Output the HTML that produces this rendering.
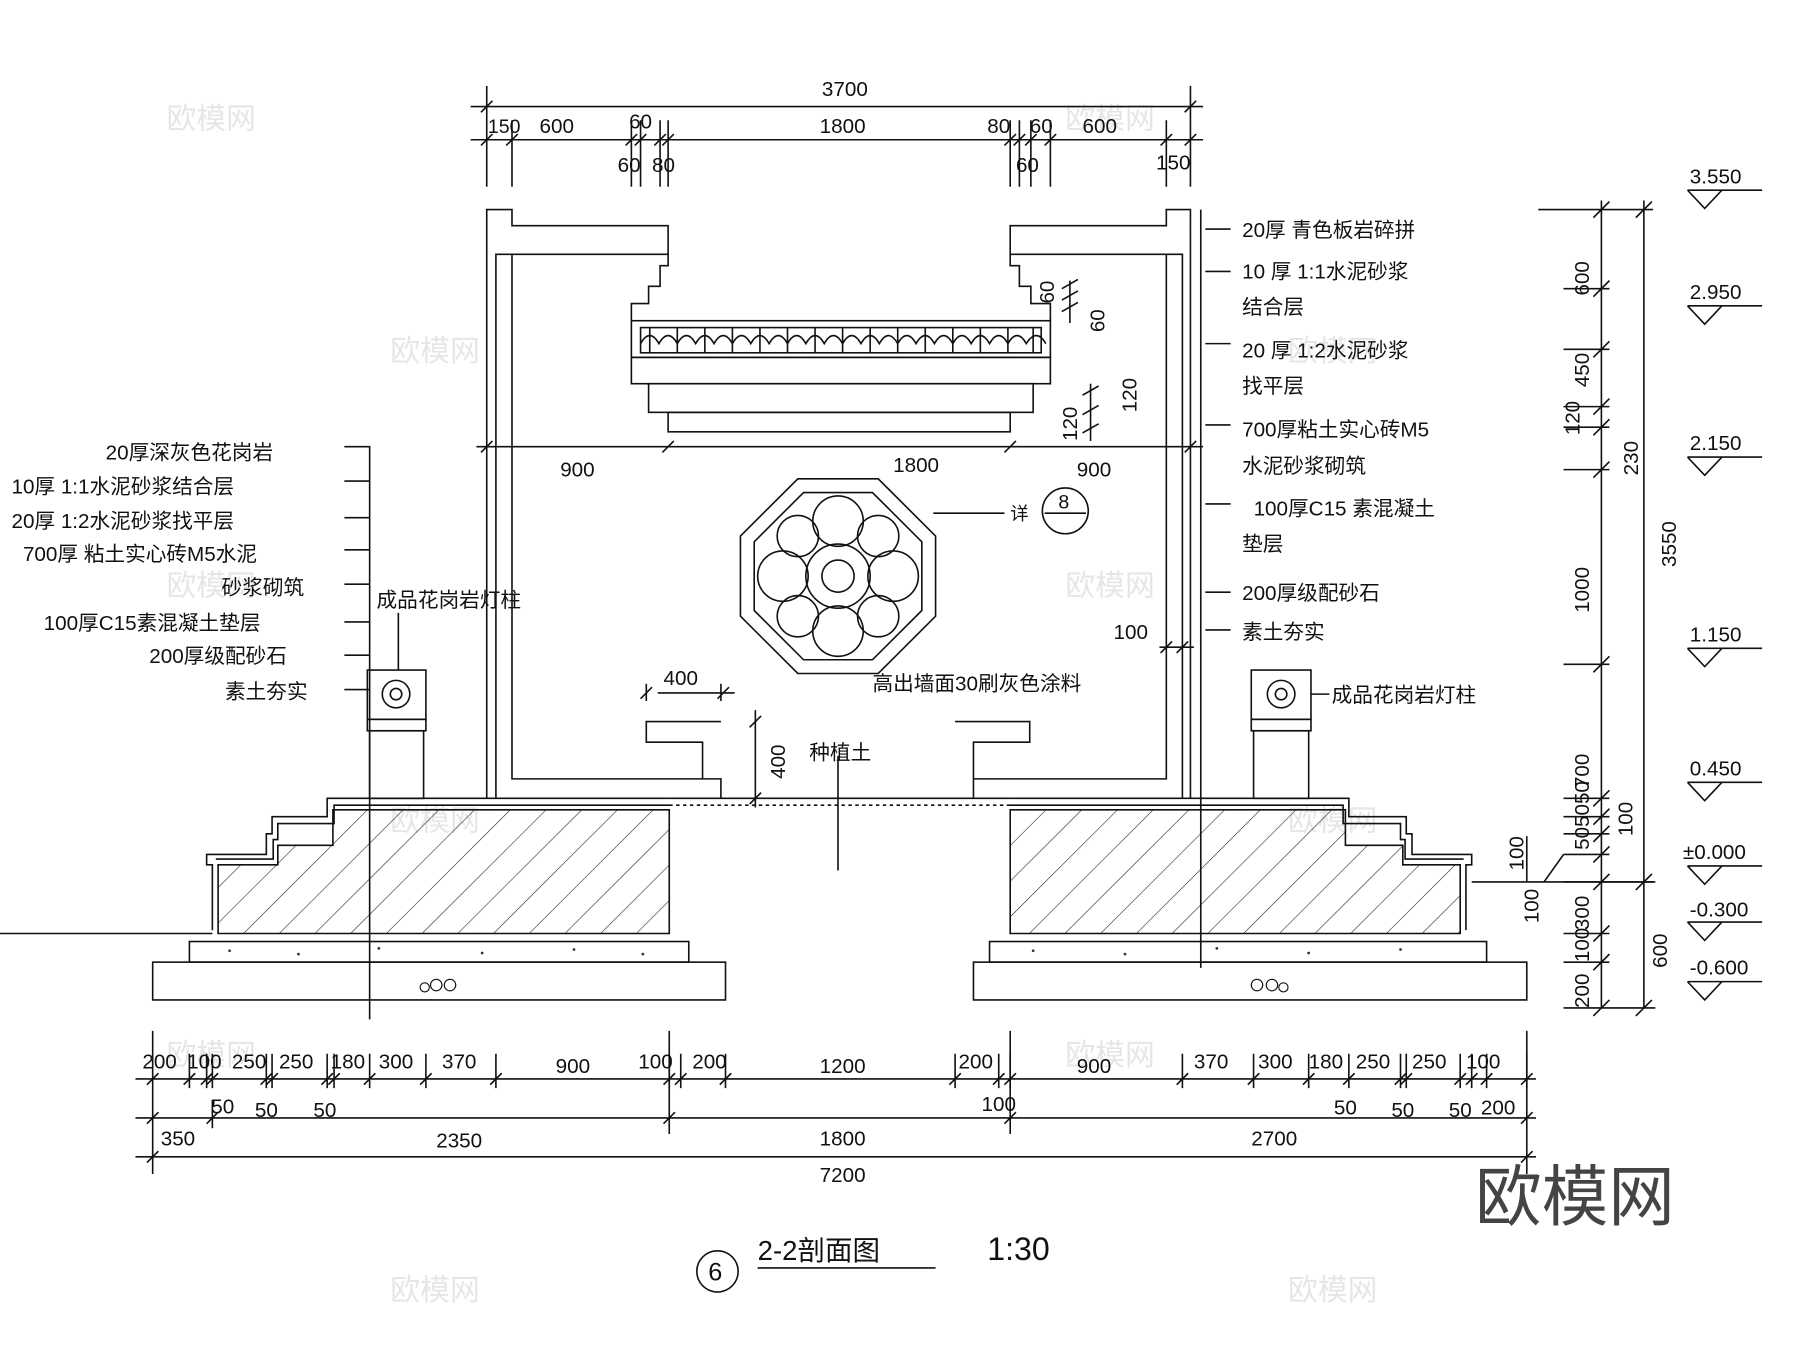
<!DOCTYPE html>
<html><head><meta charset="utf-8"><style>
html,body{margin:0;padding:0;background:#fff;}
svg{display:block}
text{font-family:"Liberation Sans","Noto Sans CJK SC",sans-serif;fill:#111}
</style></head><body>
<svg width="1800" height="1347" viewBox="0 0 1568 1176" preserveAspectRatio="none" xmlns="http://www.w3.org/2000/svg">
<defs>
<pattern id="h" width="22" height="22" patternUnits="userSpaceOnUse" patternTransform="rotate(45)">
<line x1="0" y1="0" x2="0" y2="22" stroke="#222" stroke-width="1"/></pattern>
</defs>
<rect width="1568" height="1176" fill="#fff"/>
<g font-size="26" opacity="1">
<g style="fill:#e6e6e6">
<text x="145" y="112" style="fill:#e6e6e6">欧模网</text><text x="340" y="315" style="fill:#e6e6e6">欧模网</text><text x="928" y="112" style="fill:#e6e6e6">欧模网</text>
<text x="1122" y="315" style="fill:#e6e6e6">欧模网</text><text x="145" y="520" style="fill:#e6e6e6">欧模网</text><text x="928" y="520" style="fill:#e6e6e6">欧模网</text>
<text x="340" y="725" style="fill:#e6e6e6">欧模网</text><text x="1122" y="725" style="fill:#e6e6e6">欧模网</text><text x="145" y="930" style="fill:#e6e6e6">欧模网</text>
<text x="928" y="930" style="fill:#e6e6e6">欧模网</text><text x="340" y="1135" style="fill:#e6e6e6">欧模网</text><text x="1122" y="1135" style="fill:#e6e6e6">欧模网</text>
</g></g>
<g stroke="#111" fill="none" stroke-width="1.4">
<polyline points="424,697 424,183 446,183 446,197 582,197 582,232 575,232 575,250 565,250 565,265 550,265 550,280"/>
<polyline points="1037,697 1037,183 1016,183 1016,197 880,197 880,232 888,232 888,250 898,250 898,265 915,265 915,280"/>
<polyline points="432,697 432,222 446,222"/>
<polyline points="628,697 628,680 446,680 446,222 582,222"/>
<polyline points="1030,697 1030,222 1016,222"/>
<polyline points="848,697 848,680 1016,680 1016,222 880,222"/>
<rect x="550" y="280" width="365" height="32"/>
<rect x="558" y="286" width="349" height="22"/>
<rect x="550" y="312" width="365" height="23"/>
<rect x="565" y="335" width="335" height="25"/>
<rect x="582" y="360" width="298" height="17"/>
<path d="M558 300 q8 -14 16 0 q8 -14 16 0 q8 -14 16 0 q8 -14 16 0 q8 -14 16 0 q8 -14 16 0 q8 -14 16 0 q8 -14 16 0 q8 -14 16 0 q8 -14 16 0 q8 -14 16 0 q8 -14 16 0 q8 -14 16 0 q8 -14 16 0 q8 -14 16 0 q8 -14 16 0 q8 -14 16 0 q8 -14 16 0 q8 -14 16 0 q8 -14 16 0 q8 -14 16 0 q9 -14 17 0"/>
<path d="M566 286v22M590 286v22M614 286v22M638 286v22M662 286v22M686 286v22M710 286v22M734 286v22M758 286v22M782 286v22M806 286v22M830 286v22M854 286v22M878 286v22M900 286v22"/>
<polygon points="695,418 765,418 815,468 815,538 765,588 695,588 645,538 645,468"/>
<polygon points="700,430 760,430 803,473 803,533 760,576 700,576 657,533 657,473"/>
<circle cx="730" cy="503" r="28"/><circle cx="730" cy="503" r="14"/>
<circle cx="730" cy="455" r="22"/><circle cx="730" cy="551" r="22"/>
<circle cx="682" cy="503" r="22"/><circle cx="778" cy="503" r="22"/>
<circle cx="695" cy="468" r="18"/><circle cx="765" cy="468" r="18"/>
<circle cx="695" cy="538" r="18"/><circle cx="765" cy="538" r="18"/>
<polyline points="628,630 563,630 563,648 612,648 612,680"/>
<polyline points="832,630 897,630 897,648 848,648 848,680"/>
<rect x="320" y="585" width="51" height="43"/><circle cx="345" cy="606" r="12"/><circle cx="345" cy="606" r="5"/>
<rect x="320" y="628" width="51" height="10"/><rect x="322" y="638" width="47" height="59"/>
<rect x="1090" y="585" width="52" height="43"/><circle cx="1116" cy="606" r="12"/><circle cx="1116" cy="606" r="5"/>
<rect x="1090" y="628" width="52" height="10"/><rect x="1092" y="638" width="48" height="59"/>
<polyline points="583,697 285,697 285,713 237,713 237,728 232,728 232,746 180,746 180,755 185,755 185,812"/>
<polyline points="583,703 291,703 291,719 242,719 242,733 238,733 238,750 188,750"/>
<polygon points="190,815 190,755 242,755 242,738 290,738 290,707 583,707 583,815" fill="url(#h)"/>
<rect x="165" y="822" width="435" height="18"/>
<rect x="133" y="840" width="499" height="33"/>
<polyline points="880,697 1175,697 1175,713 1225,713 1225,728 1230,728 1230,746 1282,746 1282,755 1277,755 1277,812"/>
<polyline points="880,703 1170,703 1170,719 1220,719 1220,733 1224,733 1224,750 1275,750"/>
<polygon points="1272,815 1272,755 1222,755 1222,738 1172,738 1172,707 880,707 880,815" fill="url(#h)"/>
<rect x="862" y="822" width="433" height="18"/>
<rect x="848" y="840" width="482" height="33"/>
<line x1="583" y1="697" x2="880" y2="697"/><line x1="583" y1="703" x2="880" y2="703" stroke-dasharray="3 3"/>
<line x1="730" y1="660" x2="730" y2="760"/>
<line x1="0" y1="815" x2="185" y2="815"/>
<line x1="1282" y1="770" x2="1440" y2="770"/>
<g stroke-width="1"><circle cx="380" cy="860" r="5"/><circle cx="392" cy="860" r="5"/><circle cx="370" cy="862" r="4"/><circle cx="1095" cy="860" r="5"/><circle cx="1108" cy="860" r="5"/><circle cx="1118" cy="862" r="4"/></g>
<line x1="322" y1="697" x2="322" y2="890"/><line x1="1046" y1="697" x2="1046" y2="845"/>
<line x1="1046" y1="183" x2="1046" y2="697"/>
<polyline points="300,390 322,390 322,697"/>
<path d="M300 420h22M300 452h22M300 480h22M300 510h22M300 543h22M300 572h22M300 602h22"/>
<path d="M1050 200h22M1050 237h22M1050 300h22M1050 371h22M1050 440h22M1050 517h22M1050 550h22"/>
<line x1="347" y1="535" x2="347" y2="585"/>
<line x1="1142" y1="606" x2="1158" y2="606"/>
<line x1="813" y1="448" x2="875" y2="448"/>
<circle cx="928" cy="446" r="20"/><line x1="910" y1="448" x2="946" y2="448"/>
<line x1="410" y1="93" x2="1048" y2="93"/>
<line x1="410" y1="122" x2="1048" y2="122"/>
<path d="M424 75v88M446 105v58M1037 75v88M1016 105v58M550 105v58M558 105v58M575 105v58M582 105v58M880 105v58M888 105v58M898 105v58M915 105v58"/>
<path d="M419 98l10-10M1032 98l10-10M419 127l10-10M441 127l10-10M545 127l10-10M553 127l10-10M570 127l10-10M577 127l10-10M875 127l10-10M883 127l10-10M893 127l10-10M910 127l10-10M1011 127l10-10M1032 127l10-10"/>
<line x1="415" y1="390" x2="1048" y2="390"/>
<path d="M419 395l10-10M577 395l10-10M875 395l10-10M1032 395l10-10"/>
<line x1="932" y1="245" x2="932" y2="282"/><line x1="950" y1="335" x2="950" y2="385"/>
<path d="M925 252l14-8M925 262l14-8M925 272l14-8M943 345l14-8M943 362l14-8M943 378l14-8"/>
<line x1="573" y1="605" x2="640" y2="605"/><path d="M558 610l10-10M625 610l10-10"/>
<line x1="563" y1="597" x2="563" y2="612"/><line x1="628" y1="597" x2="628" y2="612"/>
<line x1="658" y1="620" x2="658" y2="705"/><path d="M653 635l10-10M653 702l10-10"/>
<line x1="1010" y1="565" x2="1040" y2="565"/><path d="M1011 570l10-10M1025 570l10-10"/>
<line x1="1395" y1="175" x2="1395" y2="880"/><line x1="1432" y1="175" x2="1432" y2="880"/>
<path d="M1340 183h100M1362 252h40M1362 305h40M1362 355h40M1362 373h40M1362 410h40M1362 580h40M1362 697h40M1362 713h40M1362 728h40M1362 746h40M1362 770h80M1362 815h40M1362 840h40M1362 880h80"/>
<path d="M1388 190l14-14M1425 190l14-14M1388 259l14-14M1388 312l14-14M1388 362l14-14M1388 380l14-14M1388 417l14-14M1388 587l14-14M1388 704l14-14M1388 720l14-14M1388 735l14-14M1388 753l14-14M1388 777l14-14M1425 777l14-14M1388 822l14-14M1388 847l14-14M1388 887l14-14M1425 887l14-14"/>
<line x1="1330" y1="730" x2="1330" y2="770"/><line x1="1345" y1="770" x2="1362" y2="746"/>
<path d="M1470 166h65M1470 166l15 16l15-16"/><path d="M1470 267h65M1470 267l15 16l15-16"/>
<path d="M1470 399h65M1470 399l15 16l15-16"/><path d="M1470 566h65M1470 566l15 16l15-16"/>
<path d="M1470 683h65M1470 683l15 16l15-16"/><path d="M1470 756h65M1470 756l15 16l15-16"/>
<path d="M1470 805h65M1470 805l15 16l15-16"/><path d="M1470 857h65M1470 857l15 16l15-16"/>
<line x1="118" y1="942" x2="1338" y2="942"/><line x1="118" y1="976" x2="1338" y2="976"/><line x1="118" y1="1010" x2="1338" y2="1010"/>
<path d="M133 900v125M1330 900v125M583 900v90M880 900v90"/>
<path d="M165 920v30M180 920v30M185 920v30M232 920v30M237 920v30M285 920v30M291 920v30M322 920v30M371 920v30M432 920v30M583 920v30M593 920v30M632 920v30M832 920v30M870 920v30M880 920v30M1030 920v30M1092 920v30M1140 920v30M1175 920v30M1220 920v30M1225 920v30M1272 920v30M1282 920v30M1295 920v30M1330 920v30M185 960v25"/>
<path d="M128 947l10-10M160 947l10-10M175 947l10-10M180 947l10-10M227 947l10-10M232 947l10-10M280 947l10-10M286 947l10-10M317 947l10-10M366 947l10-10M427 947l10-10M578 947l10-10M588 947l10-10M627 947l10-10M827 947l10-10M865 947l10-10M875 947l10-10M1025 947l10-10M1087 947l10-10M1135 947l10-10M1170 947l10-10M1215 947l10-10M1220 947l10-10M1267 947l10-10M1277 947l10-10M1290 947l10-10M1325 947l10-10"/>
<path d="M128 981l10-10M180 981l10-10M578 981l10-10M875 981l10-10M1325 981l10-10M128 1015l10-10M1325 1015l10-10"/>
<line x1="660" y1="1107" x2="815" y2="1107"/>
<circle cx="625" cy="1110" r="18"/>
</g>
<g fill="#333"><circle cx="200" cy="830" r="1.2"/><circle cx="260" cy="833" r="1.2"/><circle cx="330" cy="828" r="1.2"/><circle cx="420" cy="832" r="1.2"/><circle cx="500" cy="829" r="1.2"/><circle cx="560" cy="833" r="1.2"/><circle cx="900" cy="830" r="1.2"/><circle cx="980" cy="833" r="1.2"/><circle cx="1060" cy="828" r="1.2"/><circle cx="1140" cy="832" r="1.2"/><circle cx="1220" cy="829" r="1.2"/></g>
<g font-size="18">
<text x="716" y="84">3700</text>
<text x="425" y="116" font-size="17">150</text><text x="470" y="116">600</text><text x="548" y="112">60</text><text x="714" y="116">1800</text><text x="860" y="116">80</text><text x="897" y="116">60</text><text x="943" y="116">600</text>
<text x="538" y="150">60</text><text x="568" y="150">80</text><text x="885" y="150">60</text><text x="1007" y="148">150</text>
<text x="488" y="416">900</text><text x="778" y="412">1800</text><text x="938" y="416">900</text>
<text x="578" y="598">400</text><text x="970" y="558">100</text>
<text transform="translate(918,265) rotate(-90)">60</text><text transform="translate(962,290) rotate(-90)">60</text>
<text transform="translate(938,385) rotate(-90)">120</text><text transform="translate(990,360) rotate(-90)">120</text>
<text transform="translate(684,680) rotate(-90)">400</text>
<text transform="translate(1384,258) rotate(-90)">600</text><text transform="translate(1384,338) rotate(-90)">450</text>
<text transform="translate(1376,380) rotate(-90)">120</text><text transform="translate(1427,415) rotate(-90)">230</text>
<text transform="translate(1384,535) rotate(-90)">1000</text><text transform="translate(1460,495) rotate(-90)">3550</text>
<text transform="translate(1384,688) rotate(-90)">700</text><text transform="translate(1384,742) rotate(-90)">505050</text>
<text transform="translate(1422,730) rotate(-90)">100</text><text transform="translate(1327,760) rotate(-90)">100</text>
<text transform="translate(1384,812) rotate(-90)">300</text><text transform="translate(1340,806) rotate(-90)">100</text>
<text transform="translate(1384,840) rotate(-90)">100</text><text transform="translate(1452,845) rotate(-90)">600</text>
<text transform="translate(1384,880) rotate(-90)">200</text>
<text x="1472" y="160">3.550</text><text x="1472" y="261">2.950</text><text x="1472" y="393">2.150</text><text x="1472" y="560">1.150</text><text x="1472" y="677">0.450</text><text x="1466" y="750">±0.000</text><text x="1472" y="800">-0.300</text><text x="1472" y="851">-0.600</text>
<text x="124" y="933">200</text><text x="163" y="933">100</text><text x="202" y="933">250</text><text x="243" y="933">250</text><text x="288" y="933">180</text><text x="330" y="933">300</text><text x="385" y="933">370</text><text x="484" y="937">900</text><text x="556" y="933">100</text><text x="603" y="933">200</text><text x="714" y="937">1200</text><text x="835" y="933">200</text><text x="938" y="937">900</text><text x="1040" y="933">370</text><text x="1096" y="933">300</text><text x="1140" y="933">180</text><text x="1181" y="933">250</text><text x="1230" y="933">250</text><text x="1277" y="933">100</text>
<text x="184" y="972">50</text><text x="222" y="975">50</text><text x="273" y="975">50</text><text x="855" y="970">100</text><text x="1162" y="973">50</text><text x="1212" y="975">50</text><text x="1262" y="975">50</text><text x="1290" y="973">200</text>
<text x="140" y="1000">350</text><text x="380" y="1002">2350</text><text x="714" y="1000">1800</text><text x="1090" y="1000">2700</text>
<text x="714" y="1032">7200</text>
<text x="92" y="401">20厚深灰色花岗岩</text><text x="10" y="431">10厚 1:1水泥砂浆结合层</text><text x="10" y="461">20厚 1:2水泥砂浆找平层</text><text x="20" y="490">700厚 粘土实心砖M5水泥</text><text x="193" y="519">砂浆砌筑</text><text x="38" y="550">100厚C15素混凝土垫层</text><text x="130" y="579">200厚级配砂石</text><text x="196" y="610">素土夯实</text>
<text x="328" y="530">成品花岗岩灯柱</text><text x="1160" y="613">成品花岗岩灯柱</text>
<text x="1082" y="207">20厚   青色板岩碎拼</text><text x="1082" y="243">10 厚 1:1水泥砂浆</text><text x="1082" y="274">结合层</text><text x="1082" y="312">20 厚 1:2水泥砂浆</text><text x="1082" y="343">找平层</text><text x="1082" y="381">700厚粘土实心砖M5</text><text x="1082" y="413">水泥砂浆砌筑</text><text x="1092" y="450">100厚C15  素混凝土</text><text x="1082" y="481">垫层</text><text x="1082" y="524">200厚级配砂石</text><text x="1082" y="558">素土夯实</text>
<text x="760" y="603">高出墙面30刷灰色涂料</text><text x="705" y="663">种植土</text>
<text x="880" y="454" font-size="16">详</text><text x="922" y="444" font-size="17">8</text>
<text x="617" y="1118" font-size="22">6</text>
<text x="660" y="1100" font-size="24">2-2剖面图</text><text x="860" y="1100" font-size="28">1:30</text>
</g>
<text x="1285" y="1065" font-size="58" style="fill:#444">欧模网</text>
</svg>
</body></html>
